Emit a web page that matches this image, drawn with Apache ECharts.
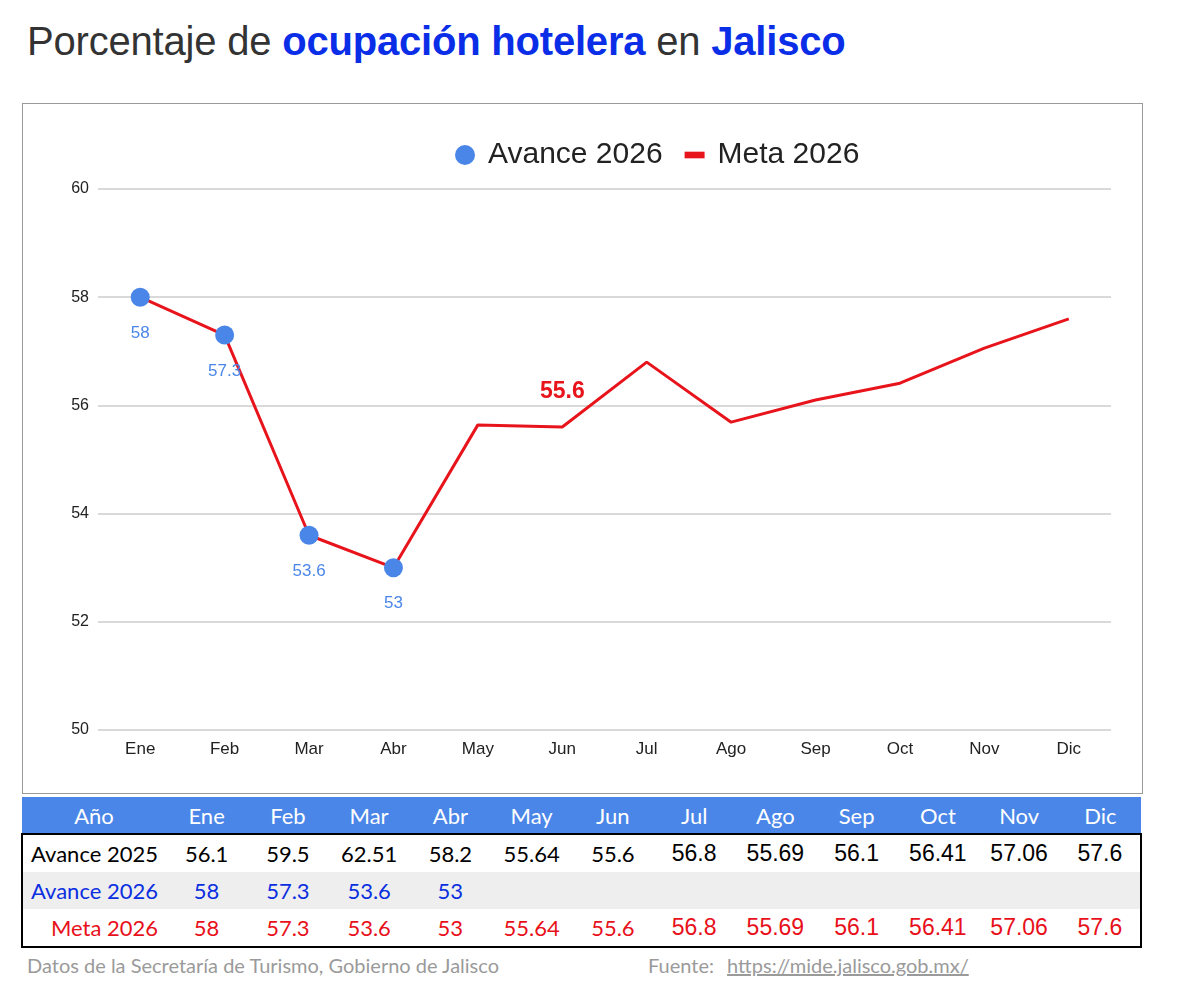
<!DOCTYPE html>
<html>
<head>
<meta charset="utf-8">
<script src="https://cdn.jsdelivr.net/npm/echarts@6/dist/echarts.min.js"></script>
<style>
body{margin:0;background:#fff;width:1200px;height:1005px;position:relative;overflow:hidden;}
#titulo{position:absolute;left:27px;top:19px;font-family:"Liberation Sans",Arial,sans-serif;font-size:40px;color:#333;white-space:nowrap;letter-spacing:-0.2px;}
#titulo b{color:#0a2ee8;}
#grafica{position:absolute;left:22px;top:103px;width:1119px;height:689px;border:1.5px solid #9a9a9a;}
#tabla{position:absolute;left:21px;top:797px;border-collapse:collapse;font-family:Lato,"Noto Sans",sans-serif;font-size:22px;table-layout:fixed;}
#tabla td,#tabla th{padding:0;text-align:center;white-space:nowrap;}
#tabla th{background:#4a86e8;color:#fff;font-weight:normal;height:36px;}
#tabla tbody{border:2px solid #000;}
#tabla td{height:37px;}
#tabla td.rot{text-align:right;padding-right:8px;}
#tabla td.ar{font-family:"Liberation Sans",Arial,sans-serif;font-size:23px;}
#tabla tr.a25 td{color:#000;}
#tabla tr.a26 td{color:#0b2fe0;background:#eeeeee;}
#tabla tr.m26 td{color:#e8101a;}
#pie{position:absolute;left:27px;top:953px;font-family:Lato,"Noto Sans",sans-serif;font-size:20px;color:#9a9a9a;white-space:nowrap;}
#fuente{position:absolute;left:648px;top:953px;font-family:Lato,"Noto Sans",sans-serif;font-size:20px;color:#9a9a9a;white-space:nowrap;}
#fuente u{margin-left:8px;}
</style>
</head>
<body>
<div id="titulo">Porcentaje de <b>ocupación hotelera</b> en <b>Jalisco</b></div>
<div id="grafica"></div>
<table id="tabla">
  <colgroup id="cols"></colgroup>
  <thead><tr id="cabecera"></tr></thead>
  <tbody id="cuerpo"></tbody>
</table>
<div id="pie">Datos de la Secretaría de Turismo, Gobierno de Jalisco</div>
<div id="fuente">Fuente: <u>https://mide.jalisco.gob.mx/</u></div>
<script>
// meses del eje
var meses = ['Ene','Feb','Mar','Abr','May','Jun','Jul','Ago','Sep','Oct','Nov','Dic'];
// valores de la tabla / grafica
var avance2025 = ['56.1','59.5','62.51','58.2','55.64','55.6','56.8','55.69','56.1','56.41','57.06','57.6'];
var avance2026 = [58, 57.3, 53.6, 53];
var meta2026 = [58, 57.3, 53.6, 53, 55.64, 55.6, 56.8, 55.69, 56.1, 56.41, 57.06, 57.6];
var ejeY = [50, 52, 54, 56, 58, 60];
var etiquetaMeta = 5; // Jun, la que va resaltada

// tabla de abajo
var cols = '<col style="width:144px">';
var cab = '<th>Año</th>';
for (var i = 0; i < meses.length; i++) {
	cols += '<col style="width:81.25px">';
	cab += '<th>' + meses[i] + '</th>';
}
document.getElementById('cols').innerHTML = cols;
document.getElementById('cabecera').innerHTML = cab;

function fila(clase, nombre, valores) {
	var h = '<tr class="' + clase + '"><td class="rot">' + nombre + '</td>';
	for (var i = 0; i < meses.length; i++) {
		var v = valores[i] === undefined ? '' : valores[i];
		h += '<td' + (i >= 6 ? ' class="ar"' : '') + '>' + v + '</td>';
	}
	return h + '</tr>';
}
document.getElementById('cuerpo').innerHTML =
	fila('a25', 'Avance 2025', avance2025) +
	fila('a26', 'Avance 2026', avance2026) +
	fila('m26', 'Meta 2026', meta2026);

// grafica
var myChart = echarts.init(document.getElementById('grafica'));
var option = {
	animation: false,
	textStyle: { fontFamily: '"Liberation Sans", Arial, sans-serif' },
	legend: {
		left: 427,
		top: 31,
		itemGap: 22,
		itemWidth: 20,
		itemHeight: 20,
		textStyle: { fontSize: 30, color: '#222', padding: [0, 0, 0, 8] },
		data: [
			{ name: 'Avance 2026', icon: 'circle' },
			{ name: 'Meta 2026', icon: 'path://M0,7h18v6h-18z' }
		]
	},
	grid: { left: 75, right: 31, top: 85, bottom: 63 },
	xAxis: {
		type: 'category',
		data: meses,
		axisLine: { show: false },
		axisTick: { show: false },
		axisLabel: { color: '#222', fontSize: 17, margin: 11 }
	},
	yAxis: {
		type: 'value',
		min: ejeY[0],
		max: ejeY[ejeY.length - 1],
		interval: 2,
		axisLabel: { color: '#222', fontSize: 16, margin: 9 },
		splitLine: { lineStyle: { color: '#cccccc', width: 1.5 } }
	},
	series: [
		{
			name: 'Meta 2026',
			type: 'line',
			color: '#e8141c',
			symbol: 'circle',
			symbolSize: 0,
			showSymbol: true,
			lineStyle: { width: 3, color: '#e8141c' },
			z: 2,
			data: meta2026.map(function (v, i) {
				if (i !== etiquetaMeta) return v;
				return {
					value: v,
					label: {
						show: true, position: 'top', distance: 24,
						color: '#e8141c', fontSize: 23, fontWeight: 'bold'
					}
				};
			})
		},
		{
			name: 'Avance 2026',
			type: 'line',
			color: '#4a86e8',
			symbol: 'circle',
			symbolSize: 19,
			lineStyle: { width: 0 },
			itemStyle: { color: '#4a86e8' },
			z: 3,
			label: {
				show: true, position: 'bottom', distance: 18,
				color: '#4a86e8', fontSize: 17
			},
			data: avance2026
		}
	]
};
myChart.setOption(option);
</script>
</body>
</html>
